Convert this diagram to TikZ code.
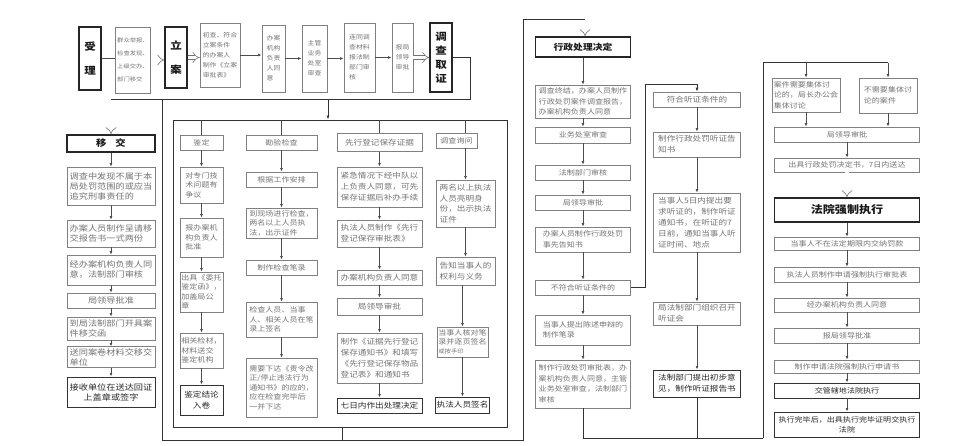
\documentclass[tikz,border=0pt]{standalone}
\usepackage{fontspec}
\setmainfont[FakeStretch=1.15]{Noto Sans CJK SC}
\usetikzlibrary{arrows.meta}

\newcommand\fsz[2]{\fontsize{#1}{#2}\selectfont}

\tikzset{
  box/.style={draw=black!50, line width=0.6pt, text=black!55, inner sep=1.5pt, align=left},
  endbox/.style={draw=black!80, line width=0.9pt, text=black!85, inner sep=1.5pt, align=center},
  keybox/.style={draw=black!85, line width=1.3pt, text=black!90, inner sep=1.5pt, align=center},
  wh/.style 2 args={minimum width=#1pt, minimum height=#2pt},
  arr/.style={draw=black!70, line width=0.7pt, -{Latex[length=3.5pt,width=2.8pt]}},
  link/.style={draw=black!80, line width=1pt},
  larr/.style={link, -{Latex[length=4pt,width=3pt]}},
  thinline/.style={draw=black!70, line width=0.7pt},
  hollow/.style={draw=black!55, line width=0.6pt, double, double distance=3.2pt, -{Implies}}
}

\begin{document}
\begin{tikzpicture}[x=1pt, y=-1pt]
\useasboundingbox (0,0) rectangle (967,446);

% top row
\node[keybox, wh={22}{63}, font=\fsz{10}{24}\bfseries] (shouli) at (90,58.5) {受\\理};
\node[box, wh={30}{66}, font=\fsz{5.5}{13}] (jubao) at (133,60) {群众举报、\\检查发现、\\上级交办、\\部门移交};
\node[keybox, wh={22}{61}, font=\fsz{10}{24}\bfseries] (lian) at (176,57.5) {立\\案};
\node[box, wh={40}{64}, font=\fsz{6}{10}] (chucha) at (220,55) {初查、符合\\立案条件\\的办案人\\制作《立案\\审批表》};
\node[box, wh={23}{67}, font=\fsz{6}{10}] (tongyi) at (273.5,58.5) {办案\\机构\\负责\\人同\\意};
\node[box, wh={25}{67}, font=\fsz{6}{10}] (zhuguan) at (314.5,58.5) {主管\\业务\\处室\\审查};
\node[box, wh={31}{69}, font=\fsz{6}{10}] (fazhi) at (359.5,57.5) {连同调\\查材料\\报法制\\部门审\\核};
\node[box, wh={21}{69}, font=\fsz{6}{10}] (baoju) at (402.5,57.5) {报局\\领导\\审批};
\node[keybox, wh={22}{69}, font=\fsz{10}{14}\bfseries] (diaocha) at (441,57.5) {调\\查\\取\\证};

\draw[thinline] (shouli) -- (shouli -| jubao.west);
\draw[hollow] (jubao) -- (jubao -| lian.west);
\draw[hollow] (lian) -- (lian -| chucha.west);
\draw[arr] (chucha) -- (chucha -| tongyi.west);
\draw[arr] (tongyi) -- (tongyi -| zhuguan.west);
\draw[arr] (zhuguan) -- (zhuguan -| fazhi.west);
\draw[arr] (fazhi) -- (fazhi -| baoju.west);
\draw[hollow] (baoju) -- (baoju -| diaocha.west);

% transfer column
\node[keybox, wh={88}{17}, font=\fsz{9}{11}\bfseries] (yj0) at (111,143.5) {移\quad 交};
\foreach \n/\y/\h/\t in {
  yj1/186/38/{调查中发现不属于本\\局处罚范围的或应当\\追究刑事责任的},
  yj2/233.5/27/{办案人员制作呈请移\\交报告书一式两份},
  yj3/270/30/{经办案机构负责人同\\意，法制部门审核},
  yj4/300.5/15/{局领导批准},
  yj5/328.5/23/{到局法制部门开具案\\件移交函},
  yj6/357/20/{送同案卷材料交移交\\单位}}
  \node[box, wh={88}{\h}, font=\fsz{8}{10}] (\n) at (111,\y) {\t};
\node[endbox, wh={88}{30}, font=\fsz{8}{10}] (yj7) at (111,392) {接收单位在送达回证\\上盖章或签字};
\foreach \a/\b in {yj0/yj1,yj1/yj2,yj2/yj3,yj3/yj4,yj4/yj5,yj5/yj6,yj6/yj7}
  \draw[arr] (\a) -- (\b);

% investigation frame
\node[draw=black!80, line width=0.9pt, wh={334}{307}] (dcbox) at (340,273.5) {};

% appraisal
\foreach \n/\y/\h/\t in {
  jd1/142.5/15/{鉴定},
  jd2/185/36/{对专门技\\术问题有\\争议},
  jd3/237.5/39/{报办案机\\构负责人\\批准},
  jd4/292/40/{出具《委托\\鉴定函》，\\加盖局公\\章},
  jd5/350.5/35/{相关检材，\\材料送交\\鉴定机构}}
  \node[box, wh={43}{\h}, font=\fsz{7}{9.5}] (\n) at (201.5,\y) {\t};
\node[endbox, wh={43}{30}, font=\fsz{7.5}{11}] (jd6) at (201.5,400) {鉴定结论\\入卷};

% inspection
\foreach \n/\y/\h/\t in {
  ky1/142.5/15/{勘验检查},
  ky2/179.5/15/{根据工作安排},
  ky3/223/30/{到现场进行检查，\\两名以上人员执\\法，出示证件},
  ky4/267.5/15/{制作检查笔录},
  ky5/319.5/35/{检查人员、当事\\人、相关人员在笔\\录上签名},
  ky6/387.5/59/{需要下达《责令改\\正/停止违法行为\\通知书》的应的，\\应在检查完毕后\\一并下达}}
  \node[box, wh={71}{\h}, font=\fsz{7}{9.5}] (\n) at (281.5,\y) {\t};

% evidence preservation
\foreach \n/\y/\h/\t in {
  xx1/142.5/18/{先行登记保存证据},
  xx2/187/40/{紧急情况下经中队以\\上负责人同意，可先\\保存证据后补办手续},
  xx3/233.5/27/{执法人员制作《先行\\登记保存审批表》},
  xx4/277.5/15/{办案机构负责人同意},
  xx5/306.5/17/{局领导审批},
  xx6/358/50/{制作《证据先行登记\\保存通知书》和填写\\《先行登记保存物品\\登记表》和通知书}}
  \node[box, wh={85}{\h}, font=\fsz{7.5}{11}] (\n) at (379.5,\y) {\t};
\node[endbox, wh={85}{15}, font=\fsz{7.5}{11}] (xx7) at (379.5,405.5) {七日内作出处理决定};

% inquiry
\node[box, wh={41}{15}, font=\fsz{7}{10}] (dc1) at (456.5,140.5) {调查询问};
\node[box, wh={59}{47}, font=\fsz{7.5}{10.5}] (dc2) at (465.5,203.5) {两名以上执法\\人员亮明身\\份，出示执法\\证件};
\node[box, wh={59}{28}, font=\fsz{7.5}{10.5}] (dc3) at (465.5,271) {告知当事人的\\权利与义务};
\node[box, wh={51}{30}, font=\fsz{7}{9}] (dc4) at (462.5,342) {当事人核对笔\\录并逐页签名\\{\fsz{5.5}{7}或按手印}};
\node[endbox, wh={51}{16}, font=\fsz{7.5}{11}] (dc5) at (462.5,405) {执法人员签名};

\foreach \c in {jd1,ky1,xx1}
  \draw[thinline] (\c |- dcbox.north) -- (\c);
\draw[thinline] (dc2 |- dcbox.north) -- (dc2 |- dc1.north);
\foreach \a/\b in {jd1/jd2,jd2/jd3,jd3/jd4,jd4/jd5,jd5/jd6,
                   ky1/ky2,ky2/ky3,ky3/ky4,ky4/ky5,ky5/ky6,
                   xx1/xx2,xx2/xx3,xx3/xx4,xx4/xx5,xx5/xx6,xx6/xx7}
  \draw[arr] (\a) -- (\b);
\draw[arr] (dc2 |- dc1.south) -- (dc2);
\draw[arr] (dc2) -- (dc3);
\draw[arr] (dc4 |- dc3.south) -- (dc4);
\draw[arr] (dc4) -- (dc5);

% routing after investigation
\coordinate (turn) at (470,100);
\coordinate (lb) at (162,100);
\coordinate (bl) at (162,440);
\coordinate (bm) at (523,440);
\coordinate (tl) at (523,20);
\draw[link] (diaocha) -| (turn) -- (turn -| yj0);
\draw[hollow] (turn -| yj0) -- (yj0);
\draw[larr] (328,100) -- (328,100 |- dcbox.north);
\draw[link] (lb) -- (bl) -- (bm) -- (tl) -- (tl -| 585,0);
\draw[link] (342,0 |- dcbox.south) -- (342,440);

% decision column
\node[keybox, wh={95}{20}, font=\fsz{8.5}{11}\bfseries] (xz0) at (583,47) {行政处理决定};
\draw[hollow] (tl -| 585,0) -- (585,0 |- xz0.north);
\foreach \n/\y/\h/\t in {
  xz1/101.5/33/{调查终结，办案人员制作\\行政处罚案件调查报告，\\办案机构负责人同意},
  xz2/135/16/{业务处室审查},
  xz3/172.5/15/{法制部门审核},
  xz4/202.5/15/{局领导审批},
  xz5/239.5/25/{办案人员制作行政处罚\\事先告知书},
  xz6/287.5/15/{不符合听证条件的},
  xz7/330/30/{当事人提出陈述申辩的\\制作笔录},
  xz8/384/48/{制作行政处罚审批表，办\\案机构负责人同意，主管\\业务处室审查，法制部门\\审核}}
  \node[box, wh={95}{\h}, font=\fsz{7}{10.5}] (\n) at (583,\y) {\t};
\foreach \a/\b in {xz0/xz1,xz1/xz2,xz2/xz3,xz3/xz4,xz4/xz5,xz5/xz6,xz6/xz7,xz7/xz8}
  \draw[arr] (\a) -- (\b);

% hearing column
\foreach \n/\y/\h/\t in {
  tz1/99.5/15/{符合听证条件的},
  tz2/144.5/25/{制作行政处罚听证告\\知书},
  tz3/222.5/59/{当事人5日内提出要\\求听证的，制作听证\\通知书，在听证的7\\日前，通知当事人听\\证时间、地点},
  tz4/313.5/23/{局法制部门组织召开\\听证会}}
  \node[box, wh={87}{\h}, font=\fsz{7.5}{11}] (\n) at (697,\y) {\t};
\node[endbox, wh={87}{27}, font=\fsz{7.5}{11}] (tz5) at (697,383.5) {法制部门提出初步意\\见，制作听证报告书};
\foreach \a/\b in {tz1/tz2,tz2/tz3,tz3/tz4,tz4/tz5}
  \draw[arr] (\a) -- (\b);
\draw[larr] (xz6) -| (645,85) -| (tz1);

% enforcement column
\node[box, wh={68}{34}, font=\fsz{7}{10.5}] (jt1) at (806,95) {案件需要集体讨\\论的，局长办公会\\集体讨论};
\node[box, wh={58}{35}, font=\fsz{7}{10.5}] (jt2) at (888,95.5) {不需要集体讨\\论的案件};
\foreach \n/\y/\h/\t in {
  fy1/134.5/15/{局领导审批},
  fy2/165/14/{出具行政处罚决定书，7日内送达},
  fy4/243.5/13/{当事人不在法定期限内交纳罚款},
  fy5/274.5/15/{执法人员制作申请强制执行审批表},
  fy6/305/14/{经办案机构负责人同意},
  fy7/335.5/15/{报局领导批准},
  fy8/366.5/13/{制作申请法院强制执行申请书}}
  \node[box, wh={145}{\h}, font=\fsz{7}{10}] (\n) at (847,\y) {\t};
\node[keybox, wh={145}{24}, font=\fsz{10.5}{13}\bfseries] (fy3) at (847,210) {法院强制执行};
\node[endbox, wh={145}{15}, font=\fsz{7}{10}] (fy9) at (847,390.5) {交管辖地法院执行};
\node[endbox, wh={145}{25}, font=\fsz{7}{10}] (fy10) at (847,424.5) {执行完毕后，出具执行完毕证明交执行\\法院};

\coordinate (rb) at (763,438);
\coordinate (rt) at (763,63);
\draw[link] (xz8) |- (rb);
\draw[link] (tz5) -- (tz5 |- rb);
\draw[link] (rb) -- (rt) -- (rt -| jt2);
\draw[arr] (rt -| jt1) -- (jt1);
\draw[arr] (rt -| jt2) -- (jt2);
\draw[arr] (jt1) -- (jt1 |- fy1.north);
\draw[arr] (jt2) -- (jt2 |- fy1.north);
\draw[arr] (fy1) -- (fy2);
\draw[hollow] (fy2) -- (fy3);
\foreach \a/\b in {fy3/fy4,fy4/fy5,fy5/fy6,fy6/fy7,fy7/fy8,fy8/fy9,fy9/fy10}
  \draw[arr] (\a) -- (\b);
\end{tikzpicture}
\end{document}
